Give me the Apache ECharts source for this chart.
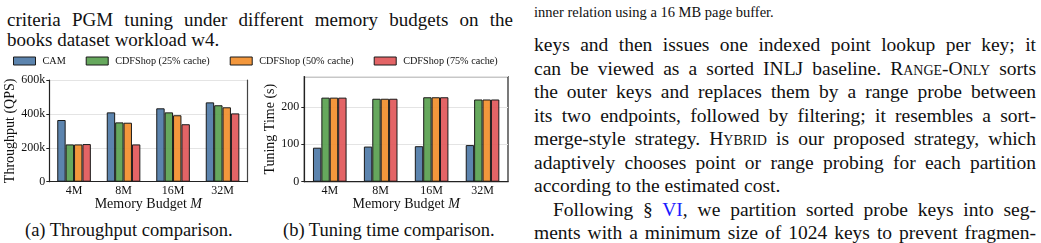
<!DOCTYPE html>
<html>
<head>
    <meta charset="utf-8">
    <title>CAM vs CDFShop</title>
    <script src="https://cdn.jsdelivr.net/npm/echarts@6/dist/echarts.min.js"></script>
    <style>
        body { margin: 0; width: 1041px; height: 243px; overflow: hidden; background: #fff;
               font-family: 'Liberation Serif', serif; color: #111; position: relative; }
        .t { position: absolute; white-space: nowrap; }
        .j { text-align: justify; text-align-last: justify; white-space: normal; }
        .sc { font-variant: small-caps; }
        .lnk { color: #1a1aff; }
        #chart { position: absolute; left: 0; top: 0; width: 520px; height: 243px; }
    </style>
</head>
<body>
<!-- 左栏：图标题 -->
<div class="t j" style="left:7px;top:10px;width:506px;font-size:19px;line-height:20px;">criteria PGM tuning under different memory budgets on the</div>
<div class="t" style="left:7px;top:30px;font-size:19px;line-height:20px;">books dataset workload w4.</div>
<div class="t" style="left:25px;top:220px;font-size:18.5px;line-height:20px;">(a) Throughput comparison.</div>
<div class="t" style="left:283px;top:220px;font-size:18.5px;line-height:20px;">(b) Tuning time comparison.</div>

<!-- 右栏正文 -->
<div class="t" style="left:534px;top:3px;font-size:14.5px;line-height:18px;">inner relation using a 16 MB page buffer.</div>
<div class="t j" style="left:534px;top:33px;width:502px;font-size:19.5px;line-height:23px;">keys and then issues one indexed point lookup per key; it</div>
<div class="t j" style="left:534px;top:57px;width:502px;font-size:19.5px;line-height:23px;">can be viewed as a sorted INLJ baseline. <span class="sc">Range-Only</span> sorts</div>
<div class="t j" style="left:534px;top:80px;width:502px;font-size:19.5px;line-height:23px;">the outer keys and replaces them by a range probe between</div>
<div class="t j" style="left:534px;top:104px;width:502px;font-size:19.5px;line-height:23px;">its two endpoints, followed by filtering; it resembles a sort-</div>
<div class="t j" style="left:534px;top:127px;width:502px;font-size:19.5px;line-height:23px;">merge-style strategy. <span class="sc">Hybrid</span> is our proposed strategy, which</div>
<div class="t j" style="left:534px;top:151px;width:502px;font-size:19.5px;line-height:23px;">adaptively chooses point or range probing for each partition</div>
<div class="t" style="left:534px;top:174px;font-size:19.5px;line-height:23px;">according to the estimated cost.</div>
<div class="t j" style="left:553px;top:198px;width:483px;font-size:19.5px;line-height:23px;">Following § <span class="lnk">VI</span>, we partition sorted probe keys into seg-</div>
<div class="t j" style="left:534px;top:221px;width:502px;font-size:19.5px;line-height:23px;">ments with a minimum size of 1024 keys to prevent fragmen-</div>

<div id="chart"></div>

<script type="text/javascript">
    // 数据
    var budgets = ['4M', '8M', '16M', '32M'];
    var seriesNames = ['CAM', 'CDFShop (25% cache)', 'CDFShop (50% cache)', 'CDFShop (75% cache)'];

    // 吞吐量 (QPS)
    var thrCAM = [364000, 409000, 433000, 468000];
    var thr25 = [220000, 350000, 409000, 451000];
    var thr50 = [220000, 348000, 392000, 439000];
    var thr75 = [222000, 220000, 339000, 403000];

    // 调优时间 (s)
    var tuneCAM = [91, 94, 95, 98];
    var tune25 = [225, 222, 226, 220];
    var tune50 = [225, 222, 226, 220];
    var tune75 = [225, 222, 226, 220];

    var colors = ['rgba(78,121,167,0.92)', 'rgba(89,161,79,0.92)', 'rgba(242,142,43,0.92)', 'rgba(225,87,89,0.92)'];
    var font = 'Liberation Serif';

    var myChart = echarts.init(document.getElementById('chart'));

    function xAxisOf(idx) {
        return {
            type: 'category', gridIndex: idx, data: budgets,
            axisLine: { lineStyle: { color: '#222', width: 1.2 } },
            axisTick: { show: false },
            axisLabel: { fontFamily: font, fontSize: 12, color: '#111', margin: 3 },
            name: 'Memory Budget {i|M}', nameLocation: 'middle', nameGap: 14,
            nameTextStyle: {
                fontFamily: font, fontSize: 14, color: '#111',
                rich: { i: { fontFamily: font, fontSize: 14, fontStyle: 'italic', color: '#111' } }
            }
        };
    }

    function bars(name, data, i, axis) {
        return {
            name: name, type: 'bar', xAxisIndex: axis, yAxisIndex: axis,
            data: data, barWidth: 8.4, barGap: '0%',
            itemStyle: { color: colors[i], borderColor: '#1a1a1a', borderWidth: 1 }
        };
    }

    myChart.setOption({
        animation: false,
        color: colors,
        legend: {
            data: seriesNames, left: 13, top: 56, padding: 0, itemWidth: 22, itemHeight: 8, itemGap: 20,
            icon: 'rect',
            itemStyle: { borderColor: '#1a1a1a', borderWidth: 1 },
            textStyle: { fontFamily: font, fontSize: 10.2, color: '#111', padding: [0, 0, 0, 2] }
        },
        grid: [
            { left: 49.3, top: 80, width: 198, height: 101.7 },
            { left: 304.3, top: 76.7, width: 203.7, height: 105, show: true, borderColor: '#222', borderWidth: 1.2 }
        ],
        xAxis: [xAxisOf(0), xAxisOf(1)],
        yAxis: [
            {
                type: 'value', gridIndex: 0, min: 0, max: 600000, interval: 200000,
                axisLine: { show: true, lineStyle: { color: '#222', width: 1.2 } },
                axisTick: { show: true, length: 3, lineStyle: { color: '#222' } },
                axisLabel: {
                    fontFamily: font, fontSize: 12, color: '#111', margin: 4,
                    formatter: function (v) { return v === 0 ? '0' : (v / 1000) + 'k'; }
                },
                splitLine: { lineStyle: { color: '#e4e4e4' } },
                name: 'Throughput (QPS)', nameLocation: 'middle', nameGap: 28,
                nameTextStyle: { fontFamily: font, fontSize: 14, color: '#111' }
            },
            {
                type: 'value', gridIndex: 1, min: 0, max: 281, interval: 100,
                axisLine: { show: true, lineStyle: { color: '#222', width: 1.2 } },
                axisTick: { show: true, length: 3, lineStyle: { color: '#222' } },
                axisLabel: { fontFamily: font, fontSize: 12, color: '#111', margin: 5, showMaxLabel: false },
                splitLine: { lineStyle: { color: '#e4e4e4' } },
                name: 'Tuning Time (s)', nameLocation: 'middle', nameGap: 22,
                nameTextStyle: { fontFamily: font, fontSize: 14, color: '#111' }
            },
            {
                // (a) 右侧边框
                type: 'value', gridIndex: 0, position: 'right', min: 0, max: 600000,
                axisLine: { show: true, lineStyle: { color: '#444', width: 1.2 } },
                axisTick: { show: false }, axisLabel: { show: false }, splitLine: { show: false }
            }
        ],
        series: [
            bars(seriesNames[0], thrCAM, 0, 0),
            bars(seriesNames[1], thr25, 1, 0),
            bars(seriesNames[2], thr50, 2, 0),
            bars(seriesNames[3], thr75, 3, 0),
            bars(seriesNames[0], tuneCAM, 0, 1),
            bars(seriesNames[1], tune25, 1, 1),
            bars(seriesNames[2], tune50, 2, 1),
            bars(seriesNames[3], tune75, 3, 1)
        ]
    });
</script>
</body>
</html>
